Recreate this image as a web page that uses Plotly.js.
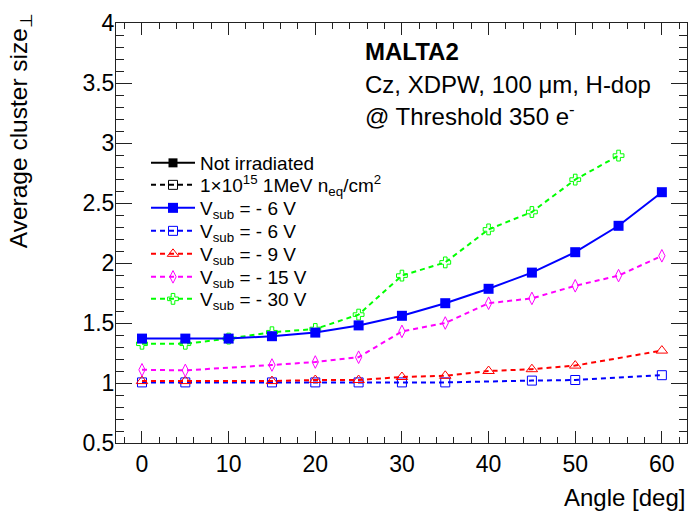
<!DOCTYPE html>
<html>
<head>
<meta charset="utf-8">
<script src="https://cdn.plot.ly/plotly-3.0.1.min.js"></script>
<style>html,body{margin:0;padding:0;background:#fff;}#chart{width:689px;height:518px;}</style>
</head>
<body>
<div id="chart"></div>
<script>
// ---- data ----
const angleNonIrr = [0, 5, 10, 15, 20, 25, 30, 35, 40, 45, 50, 55, 60];
const nonIrr6V    = [1.37, 1.37, 1.37, 1.39, 1.42, 1.48, 1.56, 1.665, 1.785, 1.92, 2.09, 2.31, 2.59];

const angleIrr6   = [0, 5, 15, 20, 25, 30, 35, 45, 50, 60];
const irr6V       = [1.005, 1.005, 1.005, 1.005, 1.005, 1.005, 1.005, 1.02, 1.025, 1.065];

const angleIrr9   = [0, 5, 15, 20, 25, 30, 35, 40, 45, 50, 60];
const irr9V       = [1.016, 1.016, 1.016, 1.025, 1.025, 1.05, 1.06, 1.10, 1.115, 1.145, 1.27];

const angleIrr15  = [0, 5, 15, 20, 25, 30, 35, 40, 45, 50, 55, 60];
const irr15V      = [1.11, 1.105, 1.15, 1.175, 1.215, 1.43, 1.50, 1.665, 1.705, 1.81, 1.895, 2.06];

const angleIrr30  = [0, 5, 10, 15, 20, 25, 30, 35, 40, 45, 50, 55];
const irr30V      = [1.327, 1.327, 1.37, 1.423, 1.45, 1.57, 1.895, 2.005, 2.28, 2.425, 2.695, 2.895];

const legendNames = [
  'Not irradiated',
  '1\u00d710<sup>15</sup> 1MeV n<sub>eq</sub>/cm<sup>2</sup>',
  'V<sub>sub</sub> = - 6 V',
  'V<sub>sub</sub> = - 6 V',
  'V<sub>sub</sub> = - 9 V',
  'V<sub>sub</sub> = - 15 V',
  'V<sub>sub</sub> = - 30 V'
];

const FONT = 'Liberation Sans, Arial, Helvetica, sans-serif';
const DASH = '5px,4px';

const traces = [
  {x: [null], y: [null], name: legendNames[0], legend: 'legend', mode: 'lines+markers',
   line: {color: 'black', width: 2}, marker: {symbol: 'square', size: 9, color: 'black'}},
  {x: [null], y: [null], name: legendNames[1], legend: 'legend2', mode: 'lines+markers',
   line: {color: 'black', width: 2, dash: DASH}, marker: {symbol: 'square-open', size: 9, color: 'black'}},
  {x: angleIrr30, y: irr30V, name: legendNames[6], legend: 'legend7', mode: 'lines+markers',
   line: {color: '#00ff00', width: 2, dash: DASH}, marker: {symbol: 'cross-open', size: 9, color: '#00ff00'}},
  {x: angleNonIrr, y: nonIrr6V, name: legendNames[2], legend: 'legend3', mode: 'lines+markers',
   line: {color: '#0000ff', width: 2}, marker: {symbol: 'square', size: 10, color: '#0000ff'}},
  {x: angleIrr6, y: irr6V, name: legendNames[3], legend: 'legend4', mode: 'lines+markers',
   line: {color: '#0000ff', width: 2, dash: DASH}, marker: {symbol: 'square-open', size: 9, color: '#0000ff'}},
  {x: angleIrr9, y: irr9V, name: legendNames[4], legend: 'legend5', mode: 'lines+markers',
   line: {color: '#ff0000', width: 2, dash: DASH}, marker: {symbol: 'triangle-up-open', size: 10, color: '#ff0000'}},
  {x: angleIrr15, y: irr15V, name: legendNames[5], legend: 'legend6', mode: 'lines+markers',
   line: {color: '#ff00ff', width: 2, dash: DASH}, marker: {symbol: 'diamond-tall-open', size: 9, color: '#ff00ff'}}
];

// one single-entry legend per row, so the row spacing can follow the reference
const rowY = [163, 185, 208, 231, 254, 277, 299];   // pixel centres of the legend rows
const plotTop = 23, plotH = 420, plotLeft = 116, plotW = 571;
function legendAt(py) {
  return {x: (146 - plotLeft) / plotW, y: (plotTop + plotH - py) / plotH,
          xanchor: 'left', yanchor: 'middle', bgcolor: 'rgba(0,0,0,0)', borderwidth: 0,
          font: {family: FONT, size: 19, color: 'black'}, itemwidth: 44};
}

const layout = {
  width: 689, height: 518,
  margin: {l: plotLeft, r: 2, t: plotTop, b: 75},
  paper_bgcolor: 'white', plot_bgcolor: 'white',
  font: {family: FONT, color: 'black', size: 23},
  showlegend: true,
  legend: legendAt(rowY[0]),
  legend2: legendAt(rowY[1]),
  legend3: legendAt(rowY[2]),
  legend4: legendAt(rowY[3]),
  legend5: legendAt(rowY[4]),
  legend6: legendAt(rowY[5]),
  legend7: legendAt(rowY[6]),
  xaxis: {
    range: [-3, 62.9], showgrid: false, zeroline: false,
    showline: true, linecolor: '#222', linewidth: 1, mirror: 'allticks',
    ticks: 'inside', ticklen: 12, tickcolor: '#222', tickwidth: 1,
    tick0: 0, dtick: 10, tickfont: {family: FONT, size: 23},
    minor: {dtick: 2, ticks: 'inside', ticklen: 6, tickcolor: '#222', tickwidth: 1}
  },
  yaxis: {
    range: [0.5, 4], showgrid: false, zeroline: false,
    showline: true, linecolor: '#222', linewidth: 1, mirror: 'allticks',
    ticks: 'inside', ticklen: 16, tickcolor: '#222', tickwidth: 1,
    tick0: 0.5, dtick: 0.5, tickfont: {family: FONT, size: 23}, ticklabelstandoff: -4,
    minor: {dtick: 0.1, ticks: 'inside', ticklen: 8, tickcolor: '#222', tickwidth: 1}
  },
  annotations: [
    {text: 'Average cluster size<sub>\u22a5</sub>', xref: 'paper', yref: 'paper',
     x: -0.168, y: 1.027, xanchor: 'center', yanchor: 'top', textangle: -90,
     showarrow: false, font: {family: FONT, size: 24.5}},
    {text: 'Angle [deg]', xref: 'paper', yref: 'paper', x: 1.0, y: -0.13,
     xanchor: 'right', yanchor: 'middle', showarrow: false, font: {family: FONT, size: 24}},
    {text: '<b>MALTA2</b>', xref: 'paper', yref: 'paper', x: 0.4326, y: 0.933,
     xanchor: 'left', yanchor: 'middle', showarrow: false, font: {family: FONT, size: 24}},
    {text: 'Cz, XDPW, 100 \u03bcm, H-dop', xref: 'paper', yref: 'paper', x: 0.4326, y: 0.854,
     xanchor: 'left', yanchor: 'middle', showarrow: false, font: {family: FONT, size: 24}},
    {text: '@ Threshold 350 e<sup>-</sup>', xref: 'paper', yref: 'paper', x: 0.4326, y: 0.782,
     xanchor: 'left', yanchor: 'middle', showarrow: false, font: {family: FONT, size: 24}}
  ]
};

Plotly.newPlot('chart', traces, layout, {displayModeBar: false, staticPlot: true});
</script>
</body>
</html>
